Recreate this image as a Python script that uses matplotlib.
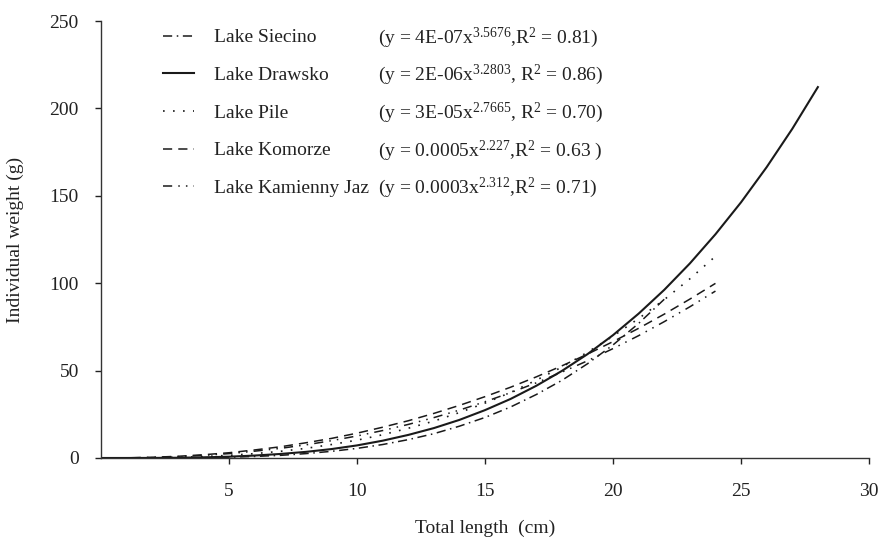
import matplotlib
matplotlib.use('Agg')
import matplotlib.pyplot as plt

plt.rcParams['font.family'] = ['Liberation Serif', 'DejaVu Serif']
plt.rcParams['mathtext.fontset'] = 'custom'
plt.rcParams['mathtext.rm'] = 'Liberation Serif'
plt.rcParams['mathtext.it'] = 'Liberation Serif:italic'

# total length (cm) and weight (g)
length_24 = list(range(0, 25))
length_22 = list(range(0, 23))
length_28 = list(range(0, 29))

siecino = [0.0, 0.0, 0.02, 0.07, 0.21, 0.46, 0.88, 1.5, 2.5, 3.8, 5.5, 7.7, 10.5,
           13.9, 18.2, 23.2, 29.2, 36.3, 44.4, 53.9, 64.7, 77.0, 90.8]
drawsko = [0.0, 0.0, 0.04, 0.14, 0.36, 0.74, 1.4, 2.3, 3.5, 5.1, 7.2, 9.9, 13.2,
           17.1, 21.8, 27.4, 33.8, 41.3, 49.8, 59.4, 70.3, 82.6, 96.2, 111.3,
           128.0, 146.3, 166.4, 188.3, 212.2]
pile = [0.0, 0.02, 0.12, 0.37, 0.81, 1.5, 2.5, 3.8, 5.5, 7.7, 10.2, 13.3, 17.0,
        21.1, 26.0, 31.4, 37.5, 44.5, 52.0, 60.5, 69.7, 79.8, 90.6, 102.5, 115.4]
komorze = [0.0, 0.08, 0.40, 0.97, 1.85, 3.0, 4.6, 6.4, 8.7, 11.2, 14.2, 17.6, 21.3,
           25.5, 30.1, 35.1, 40.5, 46.4, 52.7, 59.4, 66.6, 74.2, 82.3, 90.9, 99.9]
kamienny = [0.0, 0.06, 0.31, 0.78, 1.5, 2.5, 3.9, 5.5, 7.5, 9.9, 12.6, 15.7, 19.2,
            23.1, 27.4, 32.2, 37.4, 43.0, 49.1, 55.6, 62.6, 70.0, 78.0, 86.5, 95.5]

names = ["Lake Siecino", "Lake Drawsko", "Lake Pile", "Lake Komorze",
         "Lake Kamienny Jaz"]
equations = [
    "(y = 4E-07x$^{3.5676}$,R$^{2}$ = 0.81)",
    "(y = 2E-06x$^{3.2803}$, R$^{2}$ = 0.86)",
    "(y = 3E-05x$^{2.7665}$, R$^{2}$ = 0.70)",
    "(y = 0.0005x$^{2.227}$,R$^{2}$ = 0.63 )",
    "(y = 0.0003x$^{2.312}$,R$^{2}$ = 0.71)",
]

ink = '#1a1a1a'
fig = plt.figure(figsize=(8.84, 5.39), dpi=100)
ax = fig.add_axes([0.1143, 0.1503, 0.8688, 0.8107])

ax.plot(length_22, siecino, color=ink, lw=1.1, ls=(0, (6, 3, 1, 3)), label=names[0])
ax.plot(length_28, drawsko, color=ink, lw=1.5, ls='-', label=names[1])
ax.plot(length_24, pile, color=ink, lw=1.2, ls=(0, (1, 5)), label=names[2])
ax.plot(length_24, komorze, color=ink, lw=1.1, ls=(0, (6, 4)), label=names[3])
ax.plot(length_24, kamienny, color=ink, lw=1.1, ls=(0, (6, 4, 1, 4, 1, 4)), label=names[4])

ax.set_xlim(0, 30)
ax.set_ylim(0, 250)
ax.set_xticks([5, 10, 15, 20, 25, 30])
ax.set_yticks([0, 50, 100, 150, 200, 250])
ax.spines['top'].set_visible(False)
ax.spines['right'].set_visible(False)
for s in ['left', 'bottom']:
    ax.spines[s].set_color('#333333')
    ax.spines[s].set_linewidth(1.0)
ax.tick_params(axis='x', direction='out', length=4, width=1, pad=14, labelsize=14,
               colors='#222222')
ax.tick_params(axis='y', direction='out', length=4, width=1, pad=12, labelsize=14,
               colors='#222222')

ax.set_xlabel("Total length  (cm)", fontsize=14, color='#222222', labelpad=14)
ax.set_ylabel("Individual weight (g)", fontsize=14, color='#222222', labelpad=18)

leg = ax.legend(loc='upper left', bbox_to_anchor=(0.081, 0.982), frameon=False,
                fontsize=14, handlelength=1.6, handletextpad=1.0,
                labelspacing=1.03, borderpad=0.0, borderaxespad=0.0)
for t in leg.get_texts():
    t.set_color('#222222')

row_y = [0.962, 0.877, 0.790, 0.703, 0.618]
for eq, yy in zip(equations, row_y):
    ax.text(0.361, yy, eq, transform=ax.transAxes, fontsize=14, va='center',
            ha='left', color='#222222')

fig.savefig('out.png', dpi=100)
